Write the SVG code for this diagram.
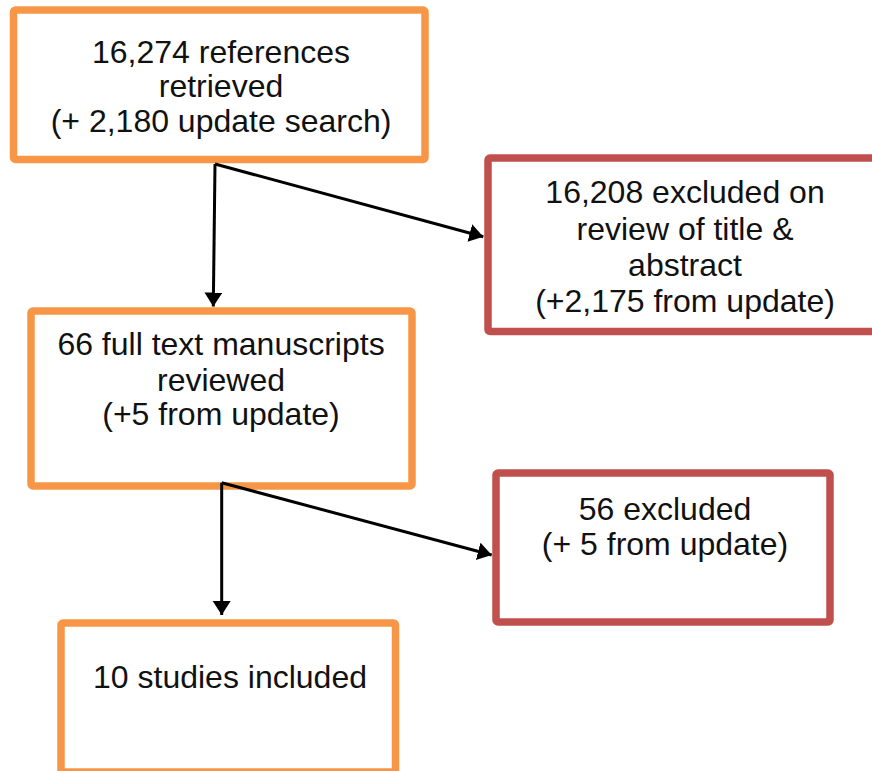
<svg xmlns="http://www.w3.org/2000/svg" width="872" height="771" viewBox="0 0 872 771">
<defs>
<style>
.orange{fill:#fff;stroke:#F79646;stroke-width:7.5}
.red{fill:#fff;stroke:#C0504D;stroke-width:7.5}
.lbl{font-family:"Liberation Sans",Arial,sans-serif;font-size:32px;fill:#111;text-anchor:middle}
.conn{stroke:#000;stroke-width:3;fill:none}
</style>
<marker id="arr" markerUnits="userSpaceOnUse" markerWidth="16" markerHeight="20" refX="14" refY="9" orient="auto">
<path d="M0,0 L14,9 L0,18 z" fill="#000"/>
</marker>
</defs>
<rect width="872" height="771" fill="#fff"/>
<g id="n1">
<rect class="orange" x="13.5" y="10" width="411.5" height="149.5" rx="2"/>
<text class="lbl" x="221" y="63">16,274 references</text>
<text class="lbl" x="221" y="97">retrieved</text>
<text class="lbl" x="221" y="132">(+ 2,180 update search)</text>
</g>
<g id="n2">
<rect class="red" x="488" y="158" width="400" height="173.5" rx="2"/>
<text class="lbl" x="685" y="203">16,208 excluded on</text>
<text class="lbl" x="685" y="240">review of title &amp;</text>
<text class="lbl" x="685" y="276">abstract</text>
<text class="lbl" x="685" y="312">(+2,175 from update)</text>
</g>
<g id="n3">
<rect class="orange" x="31" y="311" width="381" height="175" rx="2"/>
<text class="lbl" x="221" y="355">66 full text manuscripts</text>
<text class="lbl" x="221" y="391">reviewed</text>
<text class="lbl" x="221" y="425">(+5 from update)</text>
</g>
<g id="n4">
<rect class="red" x="496" y="473" width="334" height="149" rx="2"/>
<text class="lbl" x="665" y="520">56 excluded</text>
<text class="lbl" x="665" y="555">(+ 5 from update)</text>
</g>
<g id="n5">
<rect class="orange" x="61" y="623" width="334.5" height="149" rx="2"/>
<text class="lbl" x="230" y="688">10 studies included</text>
</g>
<g id="connectors">
<line class="conn" x1="215" y1="164" x2="213.3" y2="306.5" marker-end="url(#arr)"/>
<line class="conn" x1="215" y1="164" x2="483.3" y2="236.7" marker-end="url(#arr)"/>
<line class="conn" x1="221.7" y1="482.7" x2="221.7" y2="615" marker-end="url(#arr)"/>
<line class="conn" x1="221.7" y1="482.7" x2="491.7" y2="555" marker-end="url(#arr)"/>
</g>
</svg>
